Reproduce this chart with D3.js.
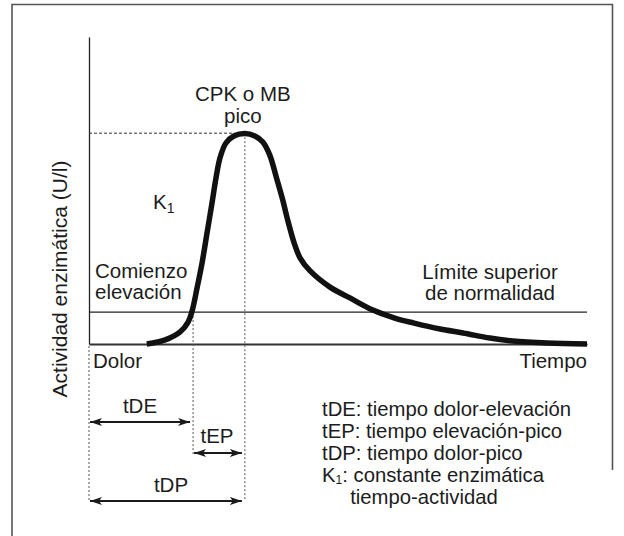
<!DOCTYPE html>
<html><head><meta charset="utf-8">
<script src="https://cdn.jsdelivr.net/npm/d3@7"></script>
<style>
html,body{margin:0;padding:0;background:#fff;}
text{font-family:"Liberation Sans",Arial,Helvetica,sans-serif;fill:#1c1c1c;}
</style></head>
<body>
<script>
// ---- data (arbitrary units) ----
const times    = [11.6,15.3,18.3,19.9,20.7,21.7,22.7,23.7,24.7,25.5,26.3,27.5,29.1,31.3,33.3,34.9,36.3,37.6,38.8,40.0,41.2,42.4,44.4,48.4,52.4,57.0,61.4,65.1,70.5,75.1,80.5,85.1,92.0,100];
const activity = [0,2.0,5.9,10.7,16.1,27.4,39.6,54.2,68.9,81.1,90.9,98.2,101.6,102.8,101.6,98.7,92.3,81.6,71.3,59.6,49.3,42.0,35.7,27.8,22.5,16.6,12.7,10.3,7.3,5.4,2.9,1.5,0.5,0];
const normalLimit = 15.6;
const painTime = 0, elevTime = 20.9, peakTime = 31.3, peakLevel = 103;
const intervals = [
  {label:"tDE", from:painTime, to:elevTime},
  {label:"tEP", from:elevTime, to:peakTime},
  {label:"tDP", from:painTime, to:peakTime}
];
const legendLines = [
  ["tDE: tiempo dolor-elevación"],
  ["tEP: tiempo elevación-pico"],
  ["tDP: tiempo dolor-pico"],
  ["K", "1", ": constante enzimática"],
  ["     tiempo-actividad"]
];
const yTitle = "Actividad enzimática (U/l)";
const xStartLabel = "Dolor", xEndLabel = "Tiempo";

// ---- layout ----
const W = 624, H = 536, FS = 20.5;
const svg = d3.select("body").append("svg").attr("width", W).attr("height", H);
const x = d3.scaleLinear().domain([0, 100]).range([89, 587]);
const y = d3.scaleLinear().domain([0, 150]).range([344, 37]);

// frame
svg.append("path")
  .attr("d", `M12,${H} L12,4.5 L612.5,4.5 L612.5,470`)
  .attr("fill", "none").attr("stroke", "#555").attr("stroke-width", 1.6);

// axes (no ticks)
svg.append("g").attr("transform", `translate(${x(0)},0)`)
  .call(d3.axisLeft(y).tickValues([]).tickSizeOuter(0))
  .select(".domain").attr("stroke", "#222").attr("stroke-width", 1.3);
svg.append("g").attr("transform", `translate(0,${y(0)})`)
  .call(d3.axisBottom(x).tickValues([]).tickSizeOuter(0))
  .select(".domain").attr("stroke", "#333").attr("stroke-width", 1.8);

// normal limit line
svg.append("line")
  .attr("x1", x(0)).attr("x2", x(100)).attr("y1", y(normalLimit)).attr("y2", y(normalLimit))
  .attr("stroke", "#222").attr("stroke-width", 1.2);

// peak dashed horizontal
svg.append("line")
  .attr("x1", x(0)).attr("x2", x(peakTime)).attr("y1", y(peakLevel)).attr("y2", y(peakLevel))
  .attr("stroke", "#333").attr("stroke-width", 1).attr("stroke-dasharray", "3,2");

// dotted verticals
const dotted = (xv, y1, y2) => svg.append("line")
  .attr("x1", x(xv)).attr("x2", x(xv)).attr("y1", y1).attr("y2", y2)
  .attr("stroke", "#555").attr("stroke-width", 1).attr("stroke-dasharray", "2,2");
dotted(painTime, y(0) + 2, 500);
dotted(elevTime, y(normalLimit), 455);
dotted(peakTime, y(peakLevel), 501);

// curve
const pts = times.map((t, i) => [t, activity[i]]);
svg.append("path").datum(pts)
  .attr("d", d3.line().x(d => x(d[0])).y(d => y(d[1])).curve(d3.curveCatmullRom.alpha(0.5)))
  .attr("fill", "none").attr("stroke", "#111").attr("stroke-width", 5.5)
  .attr("stroke-linecap", "butt").attr("stroke-linejoin", "round");

// arrow markers
const defs = svg.append("defs");
["s", "e"].forEach(k => {
  defs.append("marker").attr("id", "arr" + k)
    .attr("viewBox", "0 0 12 10").attr("refX", k === "e" ? 12 : 0).attr("refY", 5)
    .attr("markerWidth", 12).attr("markerHeight", 10).attr("markerUnits", "userSpaceOnUse")
    .attr("orient", "auto")
    .append("path").attr("d", k === "e" ? "M0,1 L12,5 L0,9 L3,5 Z" : "M12,1 L0,5 L12,9 L9,5 Z")
    .attr("fill", "#1a1a1a");
});
const arrowY = [422, 453, 501];
const labelXY = [[140, 413], [217, 443], [171, 492]];
intervals.forEach((iv, i) => {
  svg.append("line")
    .attr("x1", x(iv.from) + 1).attr("x2", x(iv.to) - 3)
    .attr("y1", arrowY[i]).attr("y2", arrowY[i])
    .attr("stroke", "#1a1a1a").attr("stroke-width", 2.2)
    .attr("marker-start", "url(#arrs)").attr("marker-end", "url(#arre)");
  svg.append("text").attr("x", labelXY[i][0]).attr("y", labelXY[i][1])
    .attr("text-anchor", "middle").attr("font-size", FS).text(iv.label);
});

// text labels
const t = (tx, ty, s, anchor) => svg.append("text").attr("x", tx).attr("y", ty)
  .attr("font-size", FS).attr("text-anchor", anchor || "start").text(s);
t(x(peakTime) - 2, 101, "CPK o MB", "middle");
t(x(peakTime) - 2, 123, "pico", "middle");
const k1 = svg.append("text").attr("x", 153).attr("y", 209).attr("font-size", FS);
k1.append("tspan").text("K");
k1.append("tspan").attr("font-size", 14).attr("dy", 4).text("1");
t(95, 278, "Comienzo");
t(95, 299, "elevación");
t(490, 279, "Límite superior", "middle");
t(490, 300, "de normalidad", "middle");
t(93, 368, xStartLabel);
t(587, 368, xEndLabel, "end");

// y title
svg.append("text").attr("transform", "translate(67,279) rotate(-90)")
  .attr("text-anchor", "middle").attr("font-size", 21).text(yTitle);

// legend
const legY0 = 416, legStep = 22;
legendLines.forEach((parts, i) => {
  const tx = svg.append("text").attr("x", 322).attr("y", legY0 + i * legStep)
    .attr("font-size", 20.3).attr("xml:space", "preserve").style("white-space", "pre");
  if (parts.length === 1) tx.text(parts[0]);
  else {
    tx.append("tspan").text(parts[0]);
    tx.append("tspan").attr("font-size", 12).attr("dy", 2).text(parts[1]);
    tx.append("tspan").attr("dy", -2).text(parts[2]);
  }
});
</script>
</body></html>
